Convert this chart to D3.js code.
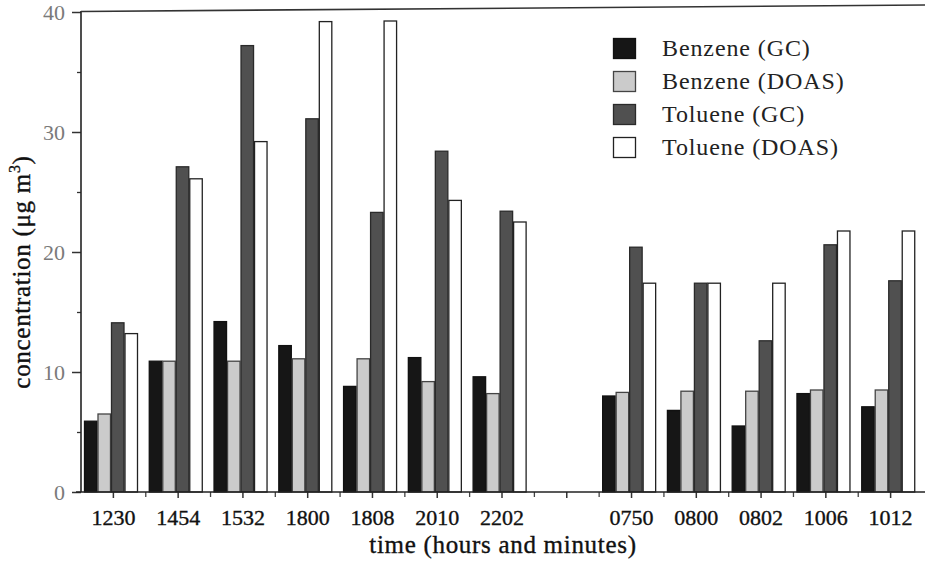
<!DOCTYPE html>
<html>
<head>
<meta charset="utf-8">
<script src="https://cdn.jsdelivr.net/npm/d3@7"></script>
<style>
  html, body { margin: 0; padding: 0; background: #fff; }
  svg { display: block; }
  text { font-family: "Liberation Serif", "Times New Roman", serif; }
</style>
</head>
<body>
<svg id="chart" width="925" height="572"></svg>
<script>
// ---- data ----
const categories = ["1230", "1454", "1532", "1800", "1808", "2010", "2202", "", "0750", "0800", "0802", "1006", "1012"];
const seriesNames = ["Benzene (GC)", "Benzene (DOAS)", "Toluene (GC)", "Toluene (DOAS)"];
const benzeneGC   = [5.9, 10.9, 14.2, 12.2, 8.8, 11.2, 9.6, null, 8.0, 6.8, 5.5, 8.2, 7.1];
const benzeneDOAS = [6.5, 10.9, 10.9, 11.1, 11.1, 9.2, 8.2, null, 8.3, 8.4, 8.4, 8.5, 8.5];
const tolueneGC   = [14.1, 27.1, 37.2, 31.1, 23.3, 28.4, 23.4, null, 20.4, 17.4, 12.6, 20.6, 17.6];
const tolueneDOAS = [13.2, 26.1, 29.2, 39.2, 39.25, 24.3, 22.5, null, 17.4, 17.4, 17.4, 21.75, 21.75];
const yTicks = [0, 10, 20, 30, 40];
const yMinorTicks = [5, 15, 25, 35];

const seriesValues = [benzeneGC, benzeneDOAS, tolueneGC, tolueneDOAS];
const fills   = ["#161616", "#cbcbcb", "#505050", "#ffffff"];
const strokes = ["#111", "#444", "#2a2a2a", "#222"];

// ---- layout ----
const svg = d3.select("#chart");
const mLeft = 81, mRight = 923, mTop = 12, mBottom = 492;

const x = d3.scaleBand().domain(d3.range(categories.length)).range([mLeft, mRight]).padding(0);
const y = d3.scaleLinear().domain([0, 40]).range([mBottom, mTop]);
const inner = d3.scaleBand().domain(d3.range(4)).range([3, 3 + 54]).padding(0);

// bars
const rows = [];
categories.forEach((c, i) => {
  seriesValues.forEach((arr, s) => {
    if (arr[i] != null) rows.push({ i, s, v: arr[i] });
  });
});
svg.append("g").selectAll("rect").data(rows).join("rect")
  .attr("x", d => x(d.i) + inner(d.s) + 0.5)
  .attr("y", d => y(d.v))
  .attr("width", inner.bandwidth() - 1)
  .attr("height", d => y(0) - y(d.v))
  .attr("fill", d => fills[d.s])
  .attr("stroke", d => strokes[d.s])
  .attr("stroke-width", 1.3);

// y axis
const yAxis = svg.append("g").attr("transform", `translate(${mLeft},0)`)
  .call(d3.axisLeft(y).tickValues(yTicks).tickSize(9).tickPadding(7).tickFormat(d3.format("d")));
yAxis.select(".domain").remove();
yAxis.selectAll("line").attr("stroke", "#333").attr("stroke-width", 1.5);
yAxis.selectAll("text").attr("font-size", 22).attr("fill", "#7a7a7a")
  .attr("font-family", "'Liberation Serif', serif").attr("dy", "0.34em");
svg.append("g").attr("transform", `translate(${mLeft},0)`)
  .call(d3.axisLeft(y).tickValues(yMinorTicks).tickSize(4).tickFormat(""))
  .call(g => g.select(".domain").remove())
  .selectAll("line").attr("stroke", "#333").attr("stroke-width", 1.3);

// x axis ticks (centers and boundaries)
const xAxis = svg.append("g").attr("transform", `translate(0,${mBottom})`)
  .call(d3.axisBottom(x).tickSize(6).tickPadding(11).tickFormat(i => categories[i]));
xAxis.select(".domain").remove();
xAxis.selectAll("line").attr("stroke", "#333").attr("stroke-width", 1.5);
xAxis.selectAll("text").attr("font-size", 22).attr("fill", "#111")
  .attr("stroke", "#111").attr("stroke-width", 0.35)
  .attr("font-family", "'Liberation Serif', serif");
const bounds = d3.range(1, categories.length).map(i => x(i));
svg.append("g").selectAll("line").data(bounds).join("line")
  .attr("x1", d => d).attr("x2", d => d)
  .attr("y1", mBottom).attr("y2", mBottom + 5)
  .attr("stroke", "#444").attr("stroke-width", 1.3);

// frame lines
svg.append("line").attr("x1", mLeft).attr("x2", mLeft).attr("y1", mTop - 1).attr("y2", mBottom)
  .attr("stroke", "#222").attr("stroke-width", 1.6);
svg.append("line").attr("x1", mLeft - 5).attr("x2", 925).attr("y1", mBottom).attr("y2", mBottom)
  .attr("stroke", "#222").attr("stroke-width", 1.6);
svg.append("line").attr("x1", mLeft).attr("x2", 925).attr("y1", mTop - 0.5).attr("y2", 5)
  .attr("stroke", "#333").attr("stroke-width", 1.6);

// axis titles
svg.append("text")
  .attr("x", 503).attr("y", 553)
  .attr("text-anchor", "middle").attr("font-size", 25).attr("letter-spacing", 0.7)
  .attr("fill", "#111").attr("stroke", "#111").attr("stroke-width", 0.35)
  .text("time (hours and minutes)");

const yt = svg.append("text")
  .attr("transform", `translate(30,${(mTop + mBottom) / 2 + 20}) rotate(-90)`)
  .attr("text-anchor", "middle").attr("font-size", 25).attr("letter-spacing", 0.7)
  .attr("fill", "#111").attr("stroke", "#111").attr("stroke-width", 0.35);
yt.append("tspan").text("concentration (μg m");
yt.append("tspan").attr("font-size", 16).attr("dy", -10).text("3");
yt.append("tspan").attr("dy", 10).text(")");

// legend
const legend = svg.append("g").attr("transform", "translate(613,38)");
seriesNames.forEach((name, s) => {
  const g = legend.append("g").attr("transform", `translate(0,${s * 33})`);
  g.append("rect").attr("x", 0.5).attr("y", 0.5).attr("width", 22).attr("height", 20)
    .attr("fill", fills[s]).attr("stroke", strokes[s]).attr("stroke-width", 1.3);
  g.append("text").attr("x", 49).attr("y", 18).attr("font-size", 24).attr("letter-spacing", 0.9)
    .attr("fill", "#222").text(name);
});
</script>
</body>
</html>
